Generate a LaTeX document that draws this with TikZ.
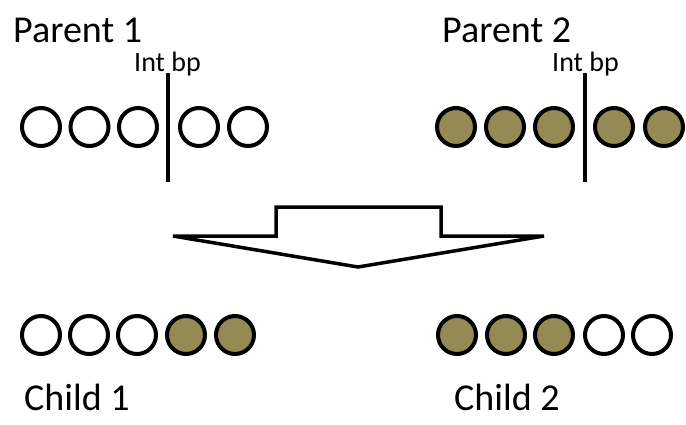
\documentclass[tikz,border=0pt]{standalone}
\usepackage{fontspec}
\setmainfont{Carlito}
\definecolor{gene}{HTML}{948A54}
\begin{document}
\begin{tikzpicture}[x=1pt,y=-1pt,
  allele/.style={circle, draw=black, line width=4pt, minimum size=38pt, inner sep=0pt},
  blank/.style={allele, fill=white},
  filled/.style={allele, fill=gene},
  bigtext/.style={font=\fontsize{38}{40}\selectfont, anchor=base west, inner sep=0pt},
  smalltext/.style={font=\fontsize{28}{30}\selectfont, anchor=base west, inner sep=0pt},
  cutline/.style={line width=3.5pt},
  bigarrow/.style={line width=3.5pt, fill=white, draw=black}]
\useasboundingbox (0,0) rectangle (686,424);

% labels
\node[bigtext] (lp1) at (13,42) {Parent 1};
\node[bigtext] (lp2) at (442,42) {Parent 2};
\node[smalltext] (bp1) at (134,71) {Int bp};
\node[smalltext] (bp2) at (552,71) {Int bp};
\node[bigtext] (lc1) at (24,410) {Child 1};
\node[bigtext] (lc2) at (454,410) {Child 2};

% parent chromosomes
\foreach \x [count=\i] in {41,89.5,138,199,248}
  \node[blank] (pa\i) at (\x,127) {};
\foreach \x [count=\i] in {456,505,554,614,664}
  \node[filled] (pb\i) at (\x,127) {};

% crossover points
\coordinate (cut1t) at (168,73);
\coordinate (cut1b) at (168,182);
\coordinate (cut2t) at (585,73);
\coordinate (cut2b) at (585,182);
\draw[cutline] (cut1t) -- (cut1b);
\draw[cutline] (cut2t) -- (cut2b);

% block arrow
\draw[bigarrow] (173,236) -- (276,236) -- (276,207) -- (441,207) -- (441,236)
  -- (544,236) -- (358,267) -- cycle;

% offspring
\foreach \x [count=\i] in {41,89,137}
  \node[blank] (ca\i) at (\x,335) {};
\foreach \x [count=\i] in {186,235}
  \node[filled] (cb\i) at (\x,335) {};
\foreach \x [count=\i] in {457,506,554}
  \node[filled] (da\i) at (\x,335) {};
\foreach \x [count=\i] in {604,652}
  \node[blank] (db\i) at (\x,335) {};
\end{tikzpicture}
\end{document}
